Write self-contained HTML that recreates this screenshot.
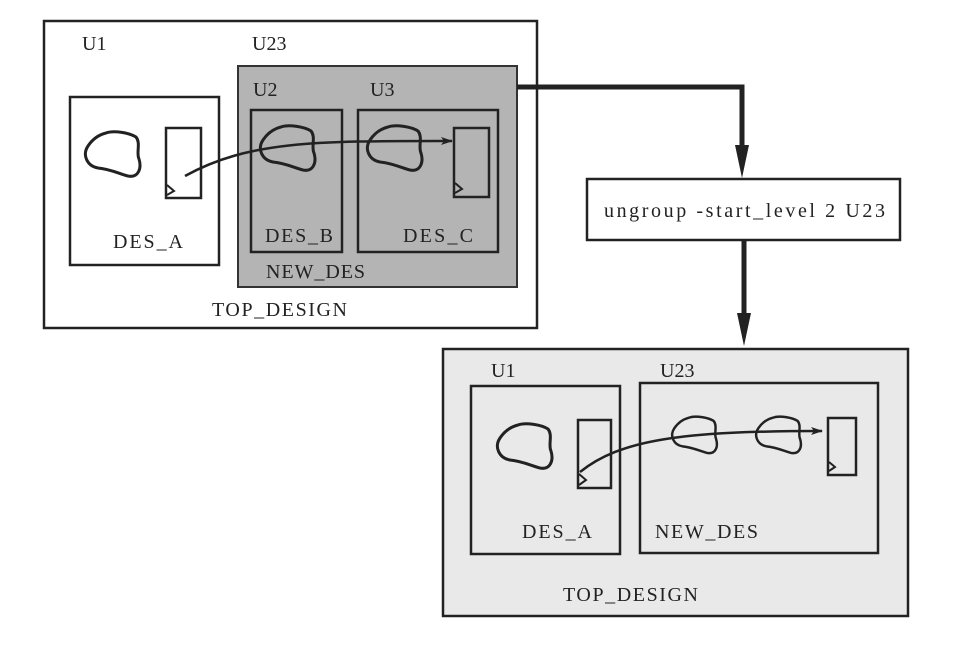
<!DOCTYPE html>
<html><head><meta charset="utf-8"><style>
html,body{margin:0;padding:0;background:#fff;}
svg{display:block}
text{font-family:"Liberation Serif","Times New Roman",serif;font-size:20px;fill:#222;}
</style></head><body>
<svg width="968" height="661" viewBox="0 0 968 661" xmlns="http://www.w3.org/2000/svg">
<defs>
<path id="blob" d="M22,2 C30,-1 46,2 52,6 C57,12 52,22 55,28 C58,38 54,47 44,45 C36,43 26,38 14,37 C3,35 -2,24 4,15 C8,9 14,4 22,2 Z" fill="none" stroke="#222" stroke-width="3"/>
<marker id="ah" markerWidth="12" markerHeight="8" refX="11" refY="4" orient="auto" markerUnits="userSpaceOnUse"><path d="M0,0 L12,4 L0,8 L3,4 Z" fill="#222"/></marker>
</defs>
<!-- TOP diagram -->
<rect x="44" y="21" width="493" height="307" fill="#fff" stroke="#222" stroke-width="2.5"/>
<text x="82" y="50">U1</text>
<text x="252" y="50">U23</text>
<rect x="70" y="97" width="149" height="168" fill="#fff" stroke="#222" stroke-width="2.5"/>
<use href="#blob" x="84" y="131"/>
<rect x="166" y="128" width="35" height="70" fill="none" stroke="#222" stroke-width="2.5"/>
<path d="M167,185 L174,191 L167,195" fill="none" stroke="#222" stroke-width="2"/>
<text x="113" y="248" textLength="70">DES_A</text>
<rect x="238" y="66" width="279" height="221" fill="#b4b4b4" stroke="#333" stroke-width="2"/>
<text x="253" y="96">U2</text>
<text x="370" y="96">U3</text>
<rect x="251" y="110" width="91" height="142" fill="none" stroke="#222" stroke-width="2.5"/>
<rect x="358" y="110" width="140" height="142" fill="none" stroke="#222" stroke-width="2.5"/>
<use href="#blob" x="259" y="125"/>
<use href="#blob" x="366" y="125"/>
<rect x="454" y="128" width="35" height="69" fill="none" stroke="#222" stroke-width="2.5"/>
<path d="M455,183 L462,189 L455,193" fill="none" stroke="#222" stroke-width="2"/>
<text x="265" y="242" textLength="68">DES_B</text>
<text x="403" y="242" textLength="70">DES_C</text>
<text x="266" y="278" textLength="99">NEW_DES</text>
<text x="212" y="316" textLength="135">TOP_DESIGN</text>
<path d="M185,176 C250,140 320,141 452,141" fill="none" stroke="#222" stroke-width="2.5" marker-end="url(#ah)"/>
<!-- connectors -->
<path d="M517,87 L742,87 L742,160" fill="none" stroke="#222" stroke-width="5"/>
<path d="M735,145 L742,178 L749,145 Z" fill="#222"/>
<rect x="587" y="179" width="313" height="61" fill="#fff" stroke="#222" stroke-width="2.5"/>
<text x="604" y="217" textLength="281">ungroup  -start_level  2  U23</text>
<path d="M744,240 L744,330" fill="none" stroke="#222" stroke-width="5"/>
<path d="M737,313 L744,346 L751,313 Z" fill="#222"/>
<!-- BOTTOM diagram -->
<rect x="443" y="349" width="465" height="267" fill="#e9e9e9" stroke="#222" stroke-width="2.5"/>
<text x="491" y="377">U1</text>
<text x="660" y="377">U23</text>
<rect x="471" y="386" width="149" height="168" fill="none" stroke="#222" stroke-width="2.5"/>
<rect x="640" y="383" width="238" height="170" fill="none" stroke="#222" stroke-width="2.5"/>
<use href="#blob" x="496" y="423"/>
<g transform="translate(671,416) scale(0.82)"><use href="#blob"/></g>
<g transform="translate(755,416) scale(0.82)"><use href="#blob"/></g>
<rect x="578" y="420" width="33" height="68" fill="none" stroke="#222" stroke-width="2.5"/>
<path d="M579,474 L586,480 L579,485" fill="none" stroke="#222" stroke-width="2"/>
<rect x="828" y="418" width="28" height="57" fill="none" stroke="#222" stroke-width="2.5"/>
<path d="M829,462 L835,467 L829,471" fill="none" stroke="#222" stroke-width="2"/>
<path d="M580,472 C620,440 680,431 822,431" fill="none" stroke="#222" stroke-width="2.5" marker-end="url(#ah)"/>
<text x="522" y="538" textLength="70">DES_A</text>
<text x="655" y="538" textLength="103">NEW_DES</text>
<text x="563" y="601" textLength="135">TOP_DESIGN</text>
</svg>
</body></html>
